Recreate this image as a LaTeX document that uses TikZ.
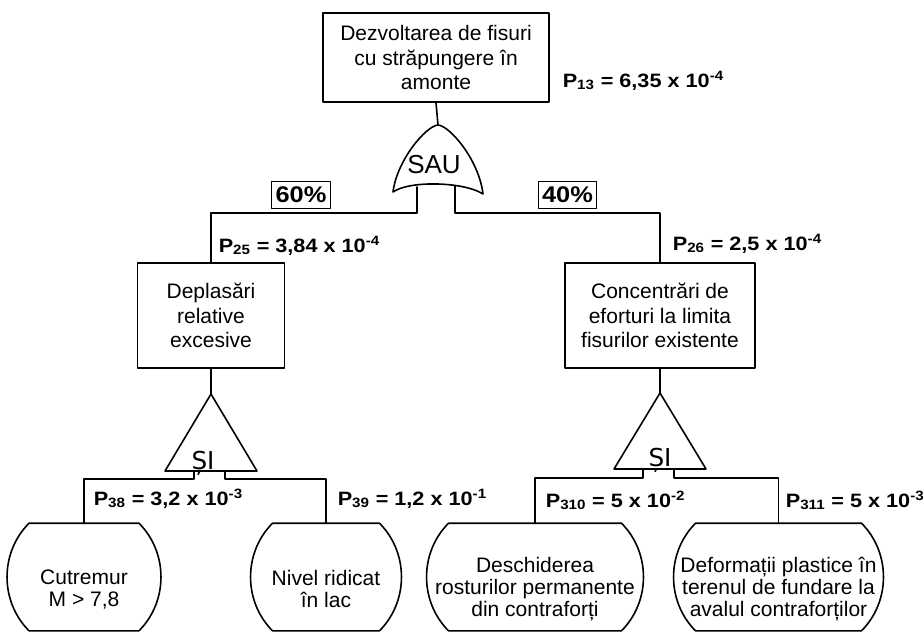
\documentclass[tikz,border=0pt]{standalone}
\usepackage{fontspec}
\setmainfont{Liberation Sans}
\newfontfamily\lblfont[FakeStretch=1.12]{Liberation Sans}
\newfontfamily\gatefont{DejaVu Sans}
\begin{document}
\begin{tikzpicture}[x=.75pt, y=-.75pt, line width=1.2pt, line join=round, line cap=round,
	font=\fontsize{15.75}{18.5}\selectfont,
	event/.style={draw, align=center, inner sep=0pt},
	leaf/.style={align=center, inner sep=0pt, minimum height=97.5pt, font=\fontsize{15.75}{16.5}\selectfont},
	prob/.style={anchor=base west, inner sep=0pt, font=\lblfont\bfseries\fontsize{14.5}{14.5}\selectfont},
	pct/.style={draw, line width=.8pt, inner xsep=3pt, inner ysep=0pt, minimum height=20pt, font=\lblfont\bfseries\fontsize{17}{17}\selectfont},
	gate/.style={inner sep=0pt, font=\fontsize{19.5}{19.5}\selectfont}]
	\useasboundingbox (0,0) rectangle (924,633);
	% evenimente
	\node[event, minimum width=169.5pt, minimum height=66.75pt] (top) at (436,57.5) {Dezvoltarea de fisuri\\cu străpungere în\\amonte};
	\node[event, minimum width=110.25pt, minimum height=78.75pt] (dep) at (211,315.5) {Deplasări\\relative\\excesive};
	\node[event, minimum width=142.5pt, minimum height=78.75pt] (con) at (660,315.5) {Concentrări de\\eforturi la limita\\fisurilor existente};
	\node[leaf, minimum width=113.25pt] (cut) at (84,589) {Cutremur\\M > 7,8};
	\node[leaf, minimum width=111pt] (niv) at (326,589) {Nivel ridicat\\în lac};
	\node[leaf, minimum width=160.5pt] (des) at (535,589) {Deschiderea\\rosturilor permanente\\din contraforți};
	\node[leaf, minimum width=155.25pt] (def) at (778.5,589) {Deformații plastice în\\terenul de fundare la\\avalul contraforților};
	\foreach \n in {cut,niv,des,def}
	\draw ([xshift=16pt]\n.north west) -- ([xshift=-16pt]\n.north east)
		.. controls ([xshift=6pt,yshift=-22pt]\n.north east) and ([xshift=6pt,yshift=40pt]\n.south east) .. ([xshift=-16pt,yshift=18pt]\n.south east)
		-- ([xshift=16pt,yshift=18pt]\n.south west)
		.. controls ([xshift=-6pt,yshift=40pt]\n.south west) and ([xshift=-6pt,yshift=-22pt]\n.north west) .. cycle;
	% poarta SAU
	\coordinate (sau) at (438,125);
	\coordinate (sauL) at (417,187);
	\coordinate (sauR) at (455,186);
	\draw (393,192) .. controls (397,160) and (426,126) .. (sau) .. controls (450,126) and (479,160) .. (483,194) .. controls (465,182) and (410,180) .. cycle;
	\node[gate] (sautxt) at (434,165) {SAU};
	\draw (top.south) -- (sau);
	\draw (sauL) -- ++(0,26) -| (dep.north);
	\draw (sauR) -- ++(0,27) -| (con.north);
	% porti SI
	\coordinate (si1) at (211,394);
	\coordinate (si1L) at (194,471);
	\coordinate (si1R) at (225,471);
	\draw (si1) -- (165,471) -- (257,471) -- cycle;
	\node[gate, anchor=base, font=\gatefont\fontsize{18.5}{18.5}\selectfont] (si1txt) at (203,469) {ȘI};
	\draw (dep.south) -- (si1);
	\draw (si1L) -- ++(0,8) -| (cut.north);
	\draw (si1R) -- ++(0,8) -| (niv.north);
	\coordinate (si2) at (660,393);
	\coordinate (si2L) at (643,469);
	\coordinate (si2R) at (674,469);
	\draw (si2) -- (614,469) -- (706,469) -- cycle;
	\node[gate, anchor=base, font=\gatefont\fontsize{18.5}{18.5}\selectfont] (si2txt) at (660,466) {ȘI};
	\draw (con.south) -- (si2);
	\draw (si2L) -- ++(0,9) -| (des.north);
	\draw (si2R) -- ++(0,9) -| (def.north);
	% procente
	\node[pct] (p60) at (301,195) {60\%};
	\node[pct] (p40) at (567.5,195) {40\%};
	% probabilitati
	\node[prob] (p13) at (562,87) {P\textsubscript{13} = 6,35 x 10\textsuperscript{-4}};
	\node[prob] (p25) at (218,252) {P\textsubscript{25} = 3,84 x 10\textsuperscript{-4}};
	\node[prob] (p26) at (672,250) {P\textsubscript{26} = 2,5 x 10\textsuperscript{-4}};
	\node[prob] (p38) at (93,505) {P\textsubscript{38} = 3,2 x 10\textsuperscript{-3}};
	\node[prob] (p39) at (337,505) {P\textsubscript{39} = 1,2 x 10\textsuperscript{-1}};
	\node[prob] (p310) at (545,507) {P\textsubscript{310} = 5 x 10\textsuperscript{-2}};
	\node[prob] (p311) at (785,507) {P\textsubscript{311} = 5 x 10\textsuperscript{-3}};
\end{tikzpicture}
\end{document}
